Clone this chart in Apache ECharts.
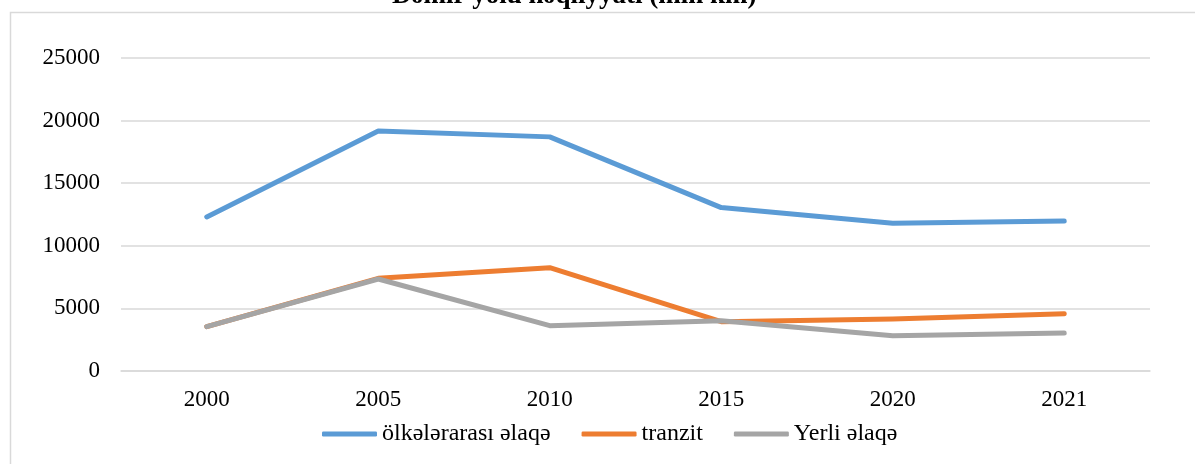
<!DOCTYPE html>
<html>
<head>
<meta charset="utf-8">
<script src="https://cdn.jsdelivr.net/npm/echarts@6/dist/echarts.min.js"></script>
<style>html,body{margin:0;padding:0;background:#fff}#c{width:1195px;height:464px}</style>
</head>
<body>
<div id="c"></div>
<script>
const titleText = 'Dəmir yolu nəqliyyatı (mln km)';
const categories = ['2000', '2005', '2010', '2015', '2020', '2021'];
const seriesNames = ['ölkələrarası əlaqə', 'tranzit', 'Yerli əlaqə'];
const internationalVals = [12300, 19170, 18700, 13050, 11800, 11980];
const transitVals = [3540, 7400, 8250, 3940, 4150, 4580];
const localVals = [3540, 7350, 3620, 4020, 2820, 3040];
const yMin = 0, yMax = 25000, yStep = 5000;

const font = 'Liberation Serif';
const colors = ['#5B9BD5', '#ED7D31', '#A5A5A5'];
const vals = [internationalVals, transitVals, localVals];

const chart = echarts.init(document.getElementById('c'));
chart.setOption({
  animation: false,
  backgroundColor: '#fff',
  graphic: [{
    type: 'rect', shape: {x: 10.5, y: 12.5, width: 1300, height: 600},
    style: {fill: 'none', stroke: '#d9d9d9', lineWidth: 1.5}, z: -10
  }],
  title: {
    text: titleText, left: 392, top: -17, padding: 0,
    textStyle: {fontFamily: font, fontWeight: 'bold', fontSize: 27, color: '#000'}
  },
  legend: {
    data: seriesNames.map((n, i) => ({name: n, icon: 'roundRect', itemStyle: {color: colors[i]}})),
    left: 322, top: 422, padding: 0, itemWidth: 55, itemHeight: 5, itemGap: 31,
    textStyle: {fontFamily: font, fontSize: 24, color: '#000'}
  },
  grid: {left: 121, right: 45, top: 58, bottom: 93, containLabel: false},
  xAxis: {
    type: 'category', data: categories, boundaryGap: true,
    axisLine: {show: true, lineStyle: {color: '#d9d9d9', width: 1.5}},
    axisTick: {show: false},
    axisLabel: {fontFamily: font, fontSize: 23, color: '#000', margin: 17}
  },
  yAxis: {
    type: 'value', min: yMin, max: yMax, interval: yStep,
    axisLine: {show: false}, axisTick: {show: false},
    splitLine: {lineStyle: {color: '#d9d9d9', width: 1.5}},
    axisLabel: {fontFamily: font, fontSize: 23, color: '#000', margin: 21,
      formatter: v => String(v)}
  },
  series: seriesNames.map((n, i) => ({
    name: n, type: 'line', data: vals[i], symbol: 'none',
    lineStyle: {color: colors[i], width: 5, cap: 'round', join: 'round'},
    itemStyle: {color: colors[i]}
  }))
});
</script>
</body>
</html>
